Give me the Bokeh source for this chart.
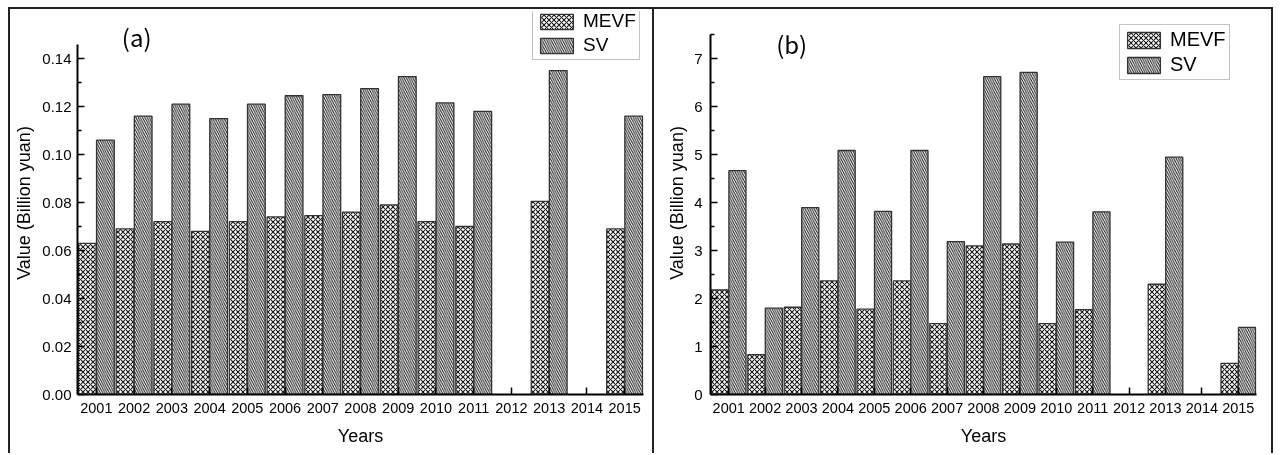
import numpy as np
from bokeh.plotting import figure
from bokeh.models import (ColumnDataSource, FactorRange, Range1d, FixedTicker,
                          NumeralTickFormatter, Label, Legend, LegendItem)
from bokeh.transform import dodge
from bokeh.layouts import row
from bokeh.embed import file_html
from bokeh.resources import INLINE

years = ["2001", "2002", "2003", "2004", "2005", "2006", "2007", "2008",
         "2009", "2010", "2011", "2012", "2013", "2014", "2015"]

a_mevf = [0.063, 0.069, 0.072, 0.068, 0.072, 0.074, 0.0745, 0.076, 0.079,
          0.072, 0.070, None, 0.0805, None, 0.069]
a_sv = [0.106, 0.116, 0.121, 0.115, 0.121, 0.1245, 0.125, 0.1275, 0.1325,
        0.1215, 0.118, None, 0.135, None, 0.116]

b_mevf = [2.18, 0.83, 1.82, 2.37, 1.78, 2.37, 1.48, 3.10, 3.14, 1.48, 1.77,
          None, 2.30, None, 0.65]
b_sv = [4.67, 1.80, 3.90, 5.09, 3.82, 5.09, 3.19, 6.63, 6.72, 3.18, 3.81,
        None, 4.95, None, 1.40]

a_ticks = [0.0, 0.02, 0.04, 0.06, 0.08, 0.10, 0.12, 0.14]
a_minor = [0.01, 0.03, 0.05, 0.07, 0.09, 0.11, 0.13]
b_ticks = [0, 1, 2, 3, 4, 5, 6, 7]
b_minor = [0.5, 1.5, 2.5, 3.5, 4.5, 5.5, 6.5, 7.5]

FONT = "Liberation Sans"


def panel(mevf, sv, axis_top, range_top, ticks, minor, fmt, tag, tag_xy,
          width, height, borders, ystand, leg_loc, leg_font, leg_h, styles):
    src = ColumnDataSource(dict(year=years,
                                mevf=np.array(mevf, dtype=float),
                                sv=np.array(sv, dtype=float)))
    p = figure(x_range=FactorRange(factors=years),
               y_range=Range1d(0, range_top),
               width=width, height=height, output_backend="svg",
               toolbar_location=None, min_border_left=borders[0],
               min_border_right=borders[1], min_border_top=borders[2],
               min_border_bottom=borders[3], styles=styles)
    p.outline_line_color = None
    p.xgrid.visible = False
    p.ygrid.visible = False

    r1 = p.vbar(x=dodge("year", -0.24, range=p.x_range), top="mevf",
                width=0.47, source=src, fill_color="white",
                line_color="#333333", line_width=1.3,
                hatch_pattern="diagonal_cross", hatch_color="#1a1a1a",
                hatch_scale=5, hatch_weight=1.1)
    r2 = p.vbar(x=dodge("year", 0.24, range=p.x_range), top="sv",
                width=0.47, source=src, fill_color="white",
                line_color="#333333", line_width=1.3,
                hatch_pattern="left_diagonal_line", hatch_color="#1a1a1a",
                hatch_scale=4.5, hatch_weight=1.0)

    for ax in (p.xaxis[0], p.yaxis[0]):
        ax.axis_line_color = "black"
        ax.axis_line_width = 2
        ax.major_tick_line_color = "black"
        ax.major_tick_line_width = 1.5
        ax.major_tick_in = 7
        ax.major_tick_out = 0
        ax.minor_tick_line_color = "black"
        ax.minor_tick_line_width = 1.5
        ax.minor_tick_in = 4
        ax.minor_tick_out = 0
        ax.major_label_text_font = FONT
        ax.major_label_text_color = "black"
        ax.axis_label_text_font = FONT
        ax.axis_label_text_font_style = "normal"
        ax.axis_label_text_color = "black"
        ax.axis_label_text_font_size = "18px"

    p.xaxis.axis_label = "Years"
    p.xaxis.major_label_text_font_size = "14.5px"
    p.xaxis.major_label_standoff = 8
    p.xaxis.axis_label_standoff = 10

    p.yaxis.axis_label = "Value (Billion yuan)"
    p.yaxis.major_label_text_font_size = "15px"
    p.yaxis.major_label_standoff = ystand[0]
    p.yaxis.axis_label_standoff = ystand[1]
    p.yaxis.ticker = FixedTicker(ticks=ticks, minor_ticks=minor)
    p.yaxis.formatter = NumeralTickFormatter(format=fmt)
    p.yaxis.bounds = (0, axis_top)

    p.add_layout(Label(x=tag_xy[0], y=tag_xy[1], text=tag,
                       text_font="Noto Sans CJK SC",
                       text_font_size="24px", text_color="black",
                       text_align="center", text_baseline="middle"))

    leg = Legend(items=[LegendItem(label="MEVF", renderers=[r1]),
                        LegendItem(label="SV", renderers=[r2])],
                 location=leg_loc, orientation="vertical",
                 glyph_width=41, glyph_height=leg_h, label_height=leg_h,
                 label_standoff=6, padding=3, spacing=2, margin=0,
                 label_text_font=FONT, label_text_font_size=leg_font,
                 label_text_color="black", border_line_color="#888888",
                 border_line_width=1.2, background_fill_color="white",
                 background_fill_alpha=1.0)
    p.add_layout(leg, "center")
    return p


pa = panel(a_mevf, a_sv, 0.146, 0.1596, a_ticks, a_minor, "0.00", "(a)",
           (1.57, 0.149), 644, 446, (67, 11, 2, 61), (6, 5), (455, 334),
           "19px", 19,
           {"border-top": "2px solid #222", "border-left": "2px solid #222"})
pb = panel(b_mevf, b_sv, 7.52, 7.99, b_ticks, b_minor, "0", "(b)",
           (2.23, 7.32), 621, 446, (56, 19, 2, 61), (8, 4), (409, 314),
           "20px", 20,
           {"border-top": "2px solid #222", "border-left": "2px solid #222",
            "border-right": "2px solid #222"})

layout = row(pa, pb, spacing=0,
             styles={"position": "fixed", "top": "7px", "left": "8px"})
open("out.html", "w").write(file_html(layout, INLINE))
